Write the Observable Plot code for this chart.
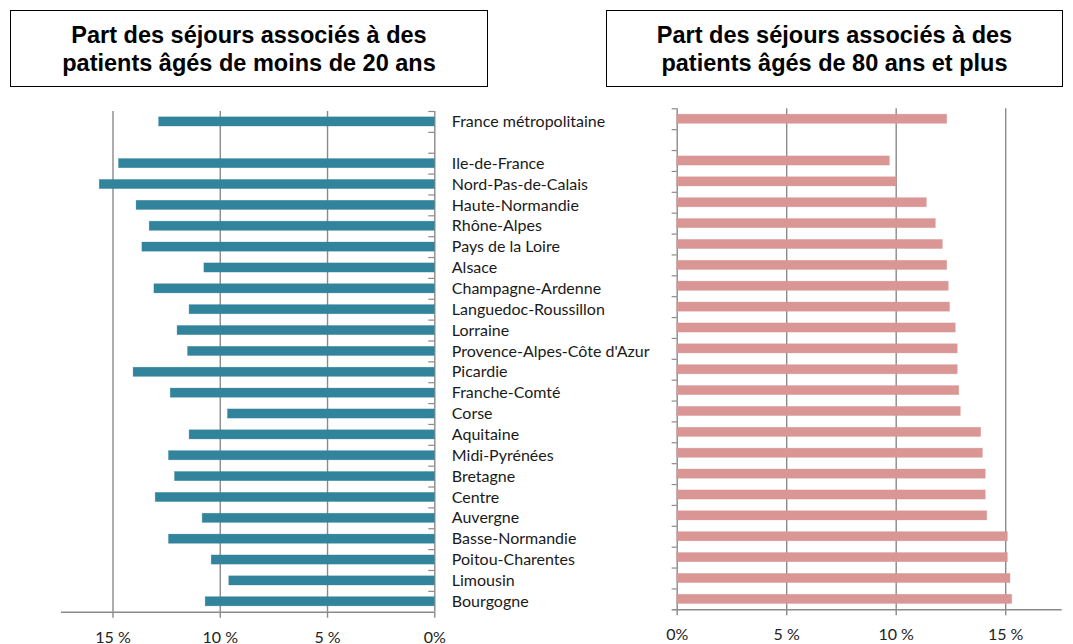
<!DOCTYPE html>
<html>
<head>
<meta charset="utf-8">
<script src="https://cdn.jsdelivr.net/npm/d3@7"></script>
<script src="https://cdn.jsdelivr.net/npm/@observablehq/plot@0.6"></script>
<style>
  html, body { margin: 0; padding: 0; background: #fff; }
  body { width: 1073px; height: 644px; position: relative; overflow: hidden; }
  .title {
    position: absolute; top: 10px; height: 77px; box-sizing: border-box;
    border: 1.5px solid #000; display: flex; align-items: center; justify-content: center;
    text-align: center; font-family: "Liberation Sans", Arial, sans-serif; font-weight: bold;
    font-size: 23.5px; line-height: 28px; color: #000;
  }
  #t1 { left: 10px; width: 478px; }
  #t2 { left: 606px; width: 457px; }
  #left { position: absolute; left: 0; top: 95px; }
  #right { position: absolute; left: 660px; top: 95px; }
</style>
</head>
<body>
<div class="title" id="t1">Part des séjours associés à des<br>patients âgés de moins de 20 ans</div>
<div class="title" id="t2">Part des séjours associés à des<br>patients âgés de 80 ans et plus</div>
<div id="left"></div>
<div id="right"></div>
<script>
const regions = [
  "France métropolitaine", "",
  "Ile-de-France", "Nord-Pas-de-Calais", "Haute-Normandie", "Rhône-Alpes",
  "Pays de la Loire", "Alsace", "Champagne-Ardenne", "Languedoc-Roussillon",
  "Lorraine", "Provence-Alpes-Côte d'Azur", "Picardie", "Franche-Comté",
  "Corse", "Aquitaine", "Midi-Pyrénées", "Bretagne", "Centre", "Auvergne",
  "Basse-Normandie", "Poitou-Charentes", "Limousin", "Bourgogne"
];
const moins20 = [
  12.85, null,
  14.72, 15.62, 13.9, 13.29,
  13.63, 10.74, 13.07, 11.43,
  11.99, 11.5, 14.04, 12.31,
  9.64, 11.43, 12.39, 12.11, 13.01, 10.82,
  12.39, 10.4, 9.58, 10.68
];
const plus80 = [
  12.33, null,
  9.71, 10.03, 11.4, 11.81,
  12.13, 12.33, 12.4, 12.46,
  12.72, 12.81, 12.81, 12.88,
  12.95, 13.88, 13.96, 14.09, 14.09, 14.16,
  15.1, 15.1, 15.22, 15.3
];
const xTicks = [0, 5, 10, 15];
const leftTickLabels = ["0%", "5 %", "10 %", "15 %"];
const rightTickLabels = ["0%", "5 %", "10 %", "15 %"];

const keys = regions.map((r, i) => i);
const rows = regions.map((r, i) => ({key: i, name: r, a: moins20[i], b: plus80[i]}));
const barRows = rows.filter(d => d.a != null);
const lastRow = [rows[rows.length - 1]];

const grid = "#8a8a8a";
const font = "Lato, 'Open Sans', sans-serif";

function chart({width, height, marginTop, marginBottom, marginLeft, marginRight, reverse, xMax, field, fill, labels, tickLen, tickSide, tickLabels}) {
  const step = (height - marginTop - marginBottom) / keys.length;
  const bandPad = 0.56;
  const marks = [
    Plot.ruleX([5, 10, 15], {stroke: grid, strokeWidth: 1.4}),
    Plot.ruleX([0], {stroke: grid, strokeWidth: 1.4}),
    Plot.barX(barRows, {x1: 0, x2: field, y: "key", fill, stroke: fill, strokeOpacity: 0.5, strokeWidth: 0.6}),
    Plot.ruleY(rows, {y: "key", x1: 0, x2: tickSide * tickLen, dy: -step / 2, stroke: grid, strokeWidth: 1.2}),
    Plot.ruleY(lastRow, {y: "key", x1: tickSide > 0 ? 0 : -tickLen, x2: xMax, dy: step / 2, stroke: grid, strokeWidth: 1.4}),
    Plot.axisX({ticks: xTicks, tickSize: 6, tickPadding: 13, stroke: grid, strokeWidth: 1.4, label: null,
      tickFormat: (d) => tickLabels[xTicks.indexOf(d)], fontSize: 16, fill: "#222", fontFamily: font})
  ];
  if (labels) {
    marks.push(Plot.text(rows, {y: "key", x: 0, text: "name", dx: 17, textAnchor: "start",
      fontSize: 16, fill: "#1a1a1a", fontFamily: font}));
  }
  return Plot.plot({
    width, height, marginTop, marginBottom, marginLeft, marginRight,
    style: {background: "transparent", fontFamily: font, overflow: "visible"},
    x: {domain: [0, xMax], reverse, axis: null},
    y: {domain: keys, paddingInner: bandPad, paddingOuter: bandPad / 2, round: false, axis: null},
    marks
  });
}

document.getElementById("left").append(chart({
  width: 660, height: 549, marginTop: 16, marginBottom: 32.3, marginLeft: 61, marginRight: 225.7,
  reverse: true, xMax: 17.4, field: "a", fill: "#31849B", labels: true,
  tickLen: 0.28, tickSide: 1, tickLabels: leftTickLabels
}));
document.getElementById("right").append(chart({
  width: 413, height: 549, marginTop: 13.3, marginBottom: 34.7, marginLeft: 16.7, marginRight: 11.3,
  reverse: false, xMax: 17.58, field: "b", fill: "#D99694", labels: false,
  tickLen: 0.23, tickSide: -1, tickLabels: rightTickLabels
}));
</script>
</body>
</html>
